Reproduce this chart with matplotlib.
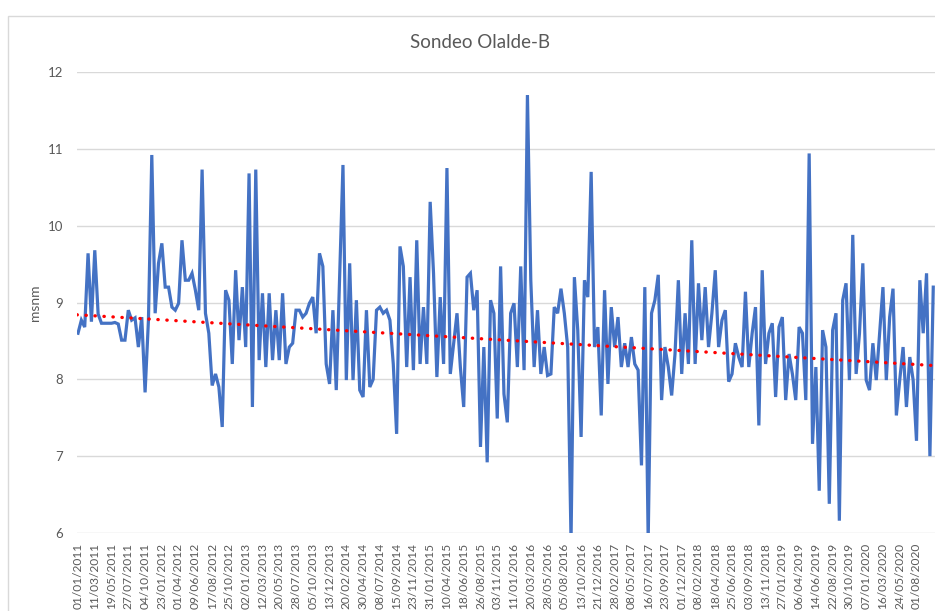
import matplotlib
matplotlib.use('Agg')
import matplotlib.pyplot as plt
import numpy as np
from matplotlib.patches import Rectangle

title = 'Sondeo Olalde-B'
y_label = 'msnm'

# one label every 5 readings (Excel category axis)
date_labels = [
	'01/01/2011', '11/03/2011', '19/05/2011', '27/07/2011', '04/10/2011',
	'23/01/2012', '01/04/2012', '09/06/2012', '17/08/2012', '25/10/2012',
	'02/01/2013', '12/03/2013', '20/05/2013', '28/07/2013', '05/10/2013',
	'13/12/2013', '20/02/2014', '30/04/2014', '08/07/2014', '15/09/2014',
	'23/11/2014', '31/01/2015', '10/04/2015', '18/06/2015', '26/08/2015',
	'03/11/2015', '11/01/2016', '20/03/2016', '28/05/2016', '05/08/2016',
	'13/10/2016', '21/12/2016', '28/02/2017', '08/05/2017', '16/07/2017',
	'23/09/2017', '01/12/2017', '08/02/2018', '18/04/2018', '25/06/2018',
	'03/09/2018', '13/11/2018', '27/01/2019', '06/04/2019', '14/06/2019',
	'22/08/2019', '30/10/2019', '07/01/2020', '16/03/2020', '24/05/2020',
	'01/08/2020',
]
label_step = 5

levels = [
	8.60, 8.77, 8.68, 9.64, 8.75, 9.68, 8.85, 8.73, 8.73, 8.73,
	8.73, 8.74, 8.72, 8.51, 8.51, 8.90, 8.77, 8.80, 8.42, 8.81,
	7.83, 8.77, 10.92, 8.86, 9.51, 9.77, 9.20, 9.20, 8.94, 8.90,
	8.99, 9.81, 9.29, 9.29, 9.38, 9.16, 8.90, 10.73, 8.86, 8.60,
	7.92, 8.07, 7.90, 7.38, 9.16, 9.03, 8.20, 9.42, 8.51, 9.20,
	8.42, 10.68, 7.64, 10.73, 8.25, 9.12, 8.16, 9.12, 8.25, 8.90,
	8.25, 9.12, 8.20, 8.42, 8.47, 8.90, 8.90, 8.81, 8.86, 8.99,
	9.07, 8.60, 9.64, 9.47, 8.20, 7.94, 8.90, 7.86, 9.33, 10.79,
	7.99, 9.51, 7.99, 9.03, 7.86, 7.77, 8.90, 7.90, 8.00, 8.90,
	8.94, 8.86, 8.90, 8.77, 8.20, 7.29, 9.73, 9.47, 8.16, 9.33,
	8.12, 9.81, 8.20, 8.94, 8.20, 10.31, 9.38, 8.03, 9.07, 8.20,
	10.75, 8.07, 8.47, 8.86, 8.16, 7.64, 9.33, 9.38, 8.90, 9.16,
	7.12, 8.42, 6.92, 9.03, 8.86, 7.49, 9.47, 7.81, 7.44, 8.86,
	8.99, 8.16, 9.47, 8.12, 11.70, 9.29, 8.16, 8.90, 8.07, 8.42,
	8.05, 8.07, 8.94, 8.86, 9.18, 8.86, 8.42, 5.90, 9.33, 8.64,
	7.25, 9.29, 9.07, 10.70, 8.42, 8.68, 7.53, 9.16, 7.94, 8.94,
	8.42, 8.81, 8.16, 8.47, 8.16, 8.55, 8.20, 8.12, 6.88, 9.20,
	5.90, 8.86, 9.03, 9.36, 7.73, 8.42, 8.16, 7.79, 8.33, 9.29,
	8.07, 8.86, 8.20, 9.81, 8.20, 9.25, 8.51, 9.20, 8.42, 8.86,
	9.42, 8.42, 8.77, 8.90, 7.97, 8.07, 8.47, 8.29, 8.16, 9.14,
	8.16, 8.60, 8.94, 7.40, 9.42, 8.20, 8.60, 8.73, 7.77, 8.68,
	8.81, 7.73, 8.33, 8.07, 7.73, 8.68, 8.60, 7.73, 10.94, 7.16,
	8.16, 6.55, 8.64, 8.42, 6.38, 8.64, 8.86, 6.16, 9.03, 9.25,
	7.99, 9.88, 8.07, 8.60, 9.51, 7.99, 7.86, 8.47, 7.99, 8.60,
	9.20, 7.99, 8.81, 9.18, 7.53, 7.99, 8.42, 7.64, 8.29, 7.99,
	7.20, 9.29, 8.60, 9.38, 7.00, 9.20,
]

# linear trendline ends as shown on the chart
trend_ends = [8.84, 8.18]

y_ticks = [6, 7, 8, 9, 10, 11, 12]

TEXT_COLOR = '#595959'
GRID_COLOR = '#d9d9d9'
LINE_COLOR = '#4472C4'


def make_chart():
	plt.rcParams['font.family'] = ['Lato', 'DejaVu Sans']
	fig = plt.figure(figsize=(9.35, 6.11), dpi=100)
	fig.patch.set_facecolor('white')

	# chart area border, cut by the screenshot on the right and bottom
	fig.patches.append(Rectangle((8 / 935, -0.1), 1.2, 1.1 - 16 / 611, transform=fig.transFigure,
		fill=False, edgecolor=GRID_COLOR, linewidth=1))

	ax = fig.add_axes([77 / 935, 78 / 611, 868 / 935, 461 / 611])
	x = np.arange(len(levels))
	ax.plot(x, levels, color=LINE_COLOR, linewidth=2.3, solid_joinstyle='miter', zorder=3)

	ax.plot([x[0] - 0.3, x[-1]], trend_ends, color='red',
		linestyle=(0, (0.1, 2.6)), linewidth=2.4, dash_capstyle='round', zorder=4)

	ax.set_xlim(-0.3, 258.5)
	ax.set_ylim(6, 12)
	ax.set_yticks(y_ticks)
	ax.set_yticklabels([str(t) for t in y_ticks])
	ticks = [i * label_step for i in range(len(date_labels))]
	ax.set_xticks(ticks)
	ax.set_xticklabels(date_labels, rotation=90)
	ax.tick_params(axis='y', length=0, labelsize=9.5, colors=TEXT_COLOR, pad=10)
	ax.tick_params(axis='x', length=0, labelsize=8.6, colors=TEXT_COLOR, pad=7)
	ax.grid(axis='y', color=GRID_COLOR, linewidth=1)
	ax.set_axisbelow(True)
	for spine in ax.spines.values():
		spine.set_visible(False)

	ax.set_ylabel(y_label, color=TEXT_COLOR, fontsize=10, labelpad=5)
	fig.text(480 / 935, 1 - 42 / 611, title, ha='center', va='center', fontsize=13.5, color=TEXT_COLOR)

	fig.savefig('out.png', dpi=100)


if __name__ == '__main__':
	make_chart()
